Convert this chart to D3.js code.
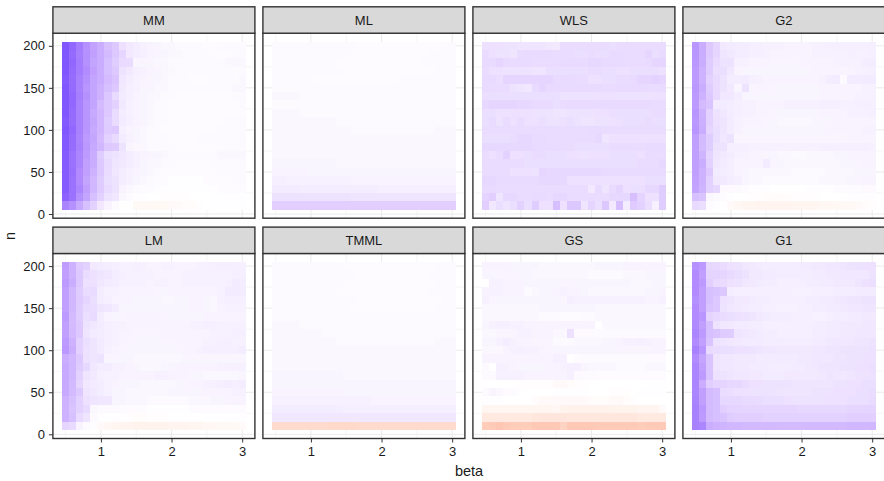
<!DOCTYPE html>
<html>
<head>
<meta charset="utf-8">
<script src="https://cdn.jsdelivr.net/npm/d3@7/dist/d3.min.js"></script>
<style>
  html, body { margin: 0; padding: 0; background: #fff; overflow: hidden; }
  text { font-family: "Liberation Sans", Arial, sans-serif; fill: #1a1a1a; }
  .tick line, .domain { stroke: #333; }
  .grid-major { stroke: #ebebeb; stroke-width: 1; }
  .grid-minor { stroke: #f0f0f0; stroke-width: 0.6; }
</style>
</head>
<body>
<svg class="chart" width="884" height="481"></svg>
<script>
const betaValues = d3.range(5, 31).map(d => d / 10);
const nValues = [200, 190, 180, 170, 160, 150, 140, 130, 120, 110, 100, 90, 80, 70, 60, 50, 40, 30, 20, 10];
const xTicks = [1, 2, 3];
const yTicks = [0, 50, 100, 150, 200];

// cell values, one row per n (200 at the top), one column per beta
const MM = [
  [72,66,58,50,43,38,30,26,15,11,9,7,6,5,4,4,3,3,3,3,2,2,3,3,3,3],
  [72,65,57,50,44,38,32,26,20,11,9,8,6,5,5,4,4,3,3,3,3,2,2,2,3,3],
  [72,66,58,50,42,38,30,24,18,17,5,5,5,4,4,3,3,3,3,3,3,3,3,4,4,4],
  [72,65,58,52,44,38,30,26,14,11,8,7,6,5,4,4,3,3,3,3,3,3,3,3,3,3],
  [71,64,56,50,42,38,32,28,12,9,7,6,5,5,4,3,3,3,2,2,2,3,3,3,3,4],
  [72,65,56,48,42,36,30,26,11,8,7,5,5,4,4,3,3,3,3,3,3,3,3,3,4,4],
  [72,66,57,50,42,36,27,18,10,8,6,5,4,4,3,3,2,2,2,2,2,2,2,2,3,3],
  [72,66,56,48,42,32,26,22,11,7,6,5,4,3,3,2,2,2,2,2,2,2,2,2,2,3],
  [72,65,56,48,40,34,26,17,9,7,6,5,4,3,3,2,2,2,2,2,2,2,2,2,2,2],
  [71,64,56,48,41,34,24,17,10,8,6,5,4,3,3,2,2,2,2,2,2,2,2,3,3,3],
  [72,66,56,48,40,34,25,26,8,6,5,4,3,3,2,2,2,2,2,2,2,2,3,3,3,3],
  [71,64,55,46,41,32,22,18,10,7,5,4,3,3,3,2,2,2,2,3,3,3,3,3,3,3],
  [71,64,56,47,40,34,26,25,14,5,4,4,3,3,3,3,2,2,2,2,2,2,3,3,3,3],
  [70,62,54,46,38,24,16,14,12,9,7,6,5,5,4,3,3,3,3,3,3,3,4,4,4,4],
  [70,62,54,44,38,26,18,13,11,9,7,5,4,4,3,3,2,2,2,2,2,3,3,3,3,3],
  [70,63,52,44,36,26,17,12,9,7,6,5,4,3,2,2,2,2,2,2,2,2,3,3,3,3],
  [70,62,52,42,34,24,16,14,9,7,5,4,3,2,2,1,1,1,1,1,2,2,2,2,3,3],
  [70,62,54,44,34,25,18,14,6,4,3,2,2,1,1,1,1,1,1,1,1,1,2,2,2,2],
  [68,62,50,42,30,22,14,12,4,2,1,1,0,0,-1,-1,-1,-1,0,0,0,1,1,1,1,1],
  [55,50,40,30,22,12,6,2,0,0,-4,-4,-4,-4,-4,-3,-3,-2,-2,-1,0,1,1,1,1,1]
];

const ML = [
  [3,3,3,3,3,3,3,3,3,3,3,3,2,2,2,2,2,2,2,2,2,2,2,2,3,3],
  [3,3,3,3,3,3,3,3,3,3,3,2,2,2,2,2,2,2,2,2,2,2,3,3,3,3],
  [3,3,3,3,3,3,3,3,3,2,2,2,2,2,2,2,2,2,2,2,2,3,3,3,3,3],
  [3,3,3,3,3,3,3,3,3,3,2,2,2,2,2,2,2,2,2,2,2,2,2,3,3,3],
  [3,3,3,3,3,3,2,2,2,2,2,2,2,2,2,2,2,2,3,3,3,3,3,3,3,3],
  [3,3,3,3,3,3,3,3,3,3,3,3,3,3,3,3,3,3,3,3,3,3,3,3,3,3],
  [4,4,4,4,3,3,3,3,3,3,3,3,3,3,3,3,3,3,3,3,3,3,3,3,3,3],
  [3,3,3,3,3,3,3,3,3,3,3,3,3,3,3,3,3,3,3,3,3,3,3,3,3,3],
  [4,4,4,4,3,3,3,3,3,3,3,3,3,3,3,3,3,3,3,3,3,3,3,3,3,3],
  [4,4,4,4,4,4,4,4,4,3,3,3,3,3,3,3,3,3,3,3,3,3,3,3,3,3],
  [4,4,4,4,4,4,4,4,4,4,4,3,3,3,3,3,3,3,3,3,3,3,3,4,4,4],
  [4,4,4,4,4,4,4,4,4,4,4,4,4,4,4,4,4,4,4,4,4,4,4,4,4,4],
  [4,4,4,4,4,4,4,4,4,4,4,4,4,4,4,4,4,4,4,4,4,4,4,4,4,4],
  [4,4,4,4,4,4,4,4,4,4,4,4,4,4,4,4,4,4,4,4,4,4,4,4,4,4],
  [5,5,5,5,5,5,5,5,5,4,4,4,4,4,4,4,4,4,4,4,4,4,4,4,4,4],
  [6,6,6,6,6,5,5,5,5,5,5,5,5,5,5,5,5,5,5,5,5,5,5,5,5,5],
  [8,8,7,7,7,7,7,7,7,7,7,6,6,6,6,6,6,6,6,6,6,6,6,6,6,6],
  [10,10,10,10,9,9,9,9,9,9,9,9,9,9,9,8,8,8,8,8,8,8,8,8,8,8],
  [14,14,14,14,14,14,14,14,14,14,14,13,13,13,13,13,13,13,13,13,13,13,13,13,13,13],
  [23,23,23,23,23,23,23,23,23,23,23,23,23,23,23,23,23,23,23,23,23,23,23,23,23,23]
];

const WLS = [
  [15,15,15,14,14,13,13,13,13,12,11,17,17,17,17,17,17,17,16,17,17,17,17,17,17,17],
  [17,15,14,14,13,17,18,18,18,18,17,17,17,16,16,17,16,16,18,18,17,17,17,20,16,18],
  [18,18,20,18,17,18,18,17,17,17,17,18,18,18,18,19,19,18,18,18,17,17,17,18,20,20],
  [17,15,15,14,14,14,14,13,13,16,16,16,16,16,16,17,17,16,16,15,15,16,16,16,16,15],
  [18,18,16,20,20,20,20,20,20,20,18,18,18,17,17,15,15,16,16,17,17,18,20,20,22,20],
  [18,17,17,17,14,13,12,18,20,18,18,18,18,18,18,18,18,17,17,18,18,18,18,17,17,18],
  [16,16,16,16,16,16,16,16,16,16,16,14,14,14,14,14,15,15,15,14,14,14,14,14,15,15],
  [19,20,20,20,20,19,19,18,18,18,16,17,18,18,18,18,18,18,18,18,18,18,18,18,17,17],
  [16,16,15,15,15,15,15,14,14,14,13,13,14,14,14,14,15,15,16,16,16,16,16,16,17,17],
  [16,18,14,17,15,17,15,15,16,14,14,15,16,14,13,13,14,14,15,15,16,16,16,17,16,16],
  [17,17,17,17,17,17,17,17,17,17,17,17,17,17,17,18,18,17,17,17,17,17,17,17,17,17],
  [16,16,16,16,17,19,19,18,18,17,17,17,17,17,17,17,19,13,15,15,15,15,15,15,15,15],
  [19,19,19,19,19,19,19,18,18,18,18,17,17,16,16,16,16,16,17,17,17,17,17,18,18,18],
  [17,15,17,22,15,15,16,17,17,16,16,16,15,15,14,15,15,15,16,16,16,16,15,17,17,17],
  [17,17,17,17,17,17,16,16,16,16,16,16,16,16,16,16,16,16,16,16,16,16,17,17,17,19],
  [17,17,17,17,15,15,15,14,20,19,19,19,19,19,19,19,19,18,18,18,18,18,18,18,18,18],
  [19,19,18,18,18,18,18,18,19,19,19,19,15,15,15,15,15,15,15,15,15,15,15,16,16,16],
  [18,18,17,17,17,17,17,17,17,17,17,17,17,17,17,11,18,13,18,21,15,16,16,19,19,24],
  [21,23,13,19,19,17,17,18,18,17,19,19,17,17,17,17,17,17,19,19,19,31,21,15,15,24],
  [23,12,16,13,16,22,16,24,15,15,31,15,27,27,13,21,16,27,11,31,9,25,22,16,7,24]
];

const G2 = [
  [48,38,26,20,11,10,9,9,8,8,7,7,7,6,6,6,6,7,7,8,8,8,8,8,8,8],
  [48,38,26,20,13,11,10,9,8,8,7,6,6,6,6,6,6,7,7,7,7,7,8,7,7,8],
  [47,38,24,18,14,14,7,7,6,6,6,5,5,5,5,6,6,6,6,6,7,7,7,7,9,9],
  [46,36,24,16,16,12,6,5,5,5,5,5,5,5,5,5,5,6,6,6,6,6,6,7,7,8],
  [46,36,22,18,14,9,9,10,8,7,6,6,6,6,6,6,6,6,7,9,10,3,10,10,10,10],
  [47,38,24,18,14,11,5,14,5,6,6,5,5,5,5,5,5,5,6,6,6,6,6,6,7,7],
  [46,36,26,18,12,12,9,5,5,5,5,5,5,5,5,5,5,5,6,6,6,6,6,7,7,7],
  [46,32,28,10,10,9,8,7,7,6,6,6,6,7,7,7,7,7,8,8,8,7,7,8,8,8],
  [48,36,22,14,12,9,8,7,7,6,6,5,5,5,5,5,5,5,6,6,6,6,7,7,7,8],
  [47,37,22,15,13,10,7,6,6,6,5,5,4,4,4,4,4,5,5,5,6,6,6,6,6,6],
  [48,38,20,16,13,9,7,5,5,5,5,5,5,5,5,5,5,5,5,6,6,6,6,6,7,7],
  [44,32,24,16,12,14,5,5,5,5,5,5,5,5,5,5,5,5,5,5,5,5,6,6,6,6],
  [44,32,24,14,14,8,8,8,7,7,7,7,7,7,7,7,7,7,8,8,8,8,8,8,8,7],
  [44,35,21,13,11,9,7,7,6,6,5,5,4,4,3,3,4,4,4,4,5,5,6,6,6,6],
  [44,38,22,12,10,8,6,6,6,6,10,5,5,4,4,4,4,4,4,4,4,5,5,5,6,6],
  [44,36,26,10,9,8,6,5,4,4,4,4,4,4,3,3,3,3,3,4,4,4,4,5,5,5],
  [43,36,22,11,11,9,8,5,4,4,3,3,3,3,3,3,3,3,4,4,4,4,5,5,6,6],
  [42,35,22,19,3,3,3,2,1,1,1,0,0,0,0,0,1,1,1,1,2,2,2,2,3,3],
  [30,28,4,3,2,1,0,0,-1,-1,-2,-2,-2,-2,-1,-1,-1,-1,0,0,0,0,1,1,1,1],
  [18,16,2,1,0,-3,-5,-6,-6,-7,-7,-7,-7,-7,-6,-6,-6,-6,-5,-5,-4,-4,-4,-3,-2,-1]
];

const LM = [
  [45,36,25,22,11,10,9,8,7,7,8,7,6,6,7,7,6,6,6,7,7,8,8,8,8,8],
  [44,36,26,17,15,13,12,9,8,7,7,7,7,6,6,6,6,7,7,7,7,7,7,7,8,8],
  [46,38,26,15,15,12,10,9,7,7,7,7,6,7,7,6,6,7,7,7,7,7,7,8,10,9],
  [44,34,24,17,18,9,7,7,6,6,6,6,6,5,5,6,6,6,6,6,6,6,7,10,10,9],
  [44,34,25,20,16,9,8,6,6,6,5,5,5,5,4,4,5,5,6,6,5,4,7,8,8,8],
  [44,34,24,18,17,13,12,9,5,5,5,5,5,5,5,5,5,5,6,6,5,4,6,7,7,7],
  [46,32,24,16,18,9,6,5,5,6,6,6,6,6,5,5,5,5,5,5,6,6,6,6,6,6],
  [44,32,26,14,12,10,8,7,7,6,6,6,6,6,6,6,6,6,7,7,8,8,7,7,7,7],
  [44,33,26,13,10,9,8,7,6,6,5,5,5,5,6,6,6,6,6,6,6,7,7,7,8,8],
  [46,36,22,16,13,10,8,7,6,5,5,5,5,5,5,5,6,6,6,6,7,7,8,8,7,7],
  [47,38,22,15,13,10,7,6,5,5,5,5,5,5,5,5,5,6,6,7,8,8,8,8,8,9],
  [38,34,26,15,13,14,5,5,5,5,4,4,4,4,4,4,4,5,5,5,5,5,5,5,5,5],
  [40,34,24,19,12,9,9,7,7,6,5,4,4,4,5,5,6,6,6,6,6,6,7,7,7,7],
  [40,34,22,13,11,8,7,7,6,6,6,6,6,7,7,6,6,6,5,5,4,4,4,4,4,5],
  [40,33,20,12,10,9,7,6,5,5,5,4,4,4,4,4,5,5,6,6,7,7,8,9,8,9],
  [40,32,26,13,11,9,7,5,5,4,4,4,4,4,4,5,5,5,5,5,6,6,6,6,7,7],
  [36,30,22,15,13,12,12,5,5,4,4,4,3,3,3,3,3,3,4,4,4,5,5,6,6,6],
  [36,28,22,18,4,3,3,3,2,2,2,2,1,1,1,1,1,1,2,2,2,2,2,2,2,2],
  [36,30,18,13,3,1,1,1,0,-1,-2,-2,-1,-1,-1,0,0,0,0,0,1,1,1,1,1,1],
  [20,18,6,2,1,-3,-5,-6,-7,-7,-8,-8,-8,-8,-8,-7,-7,-7,-6,-6,-5,-5,-4,-4,-4,-3]
];

const TMML = [
  [3,3,3,3,3,3,3,3,3,3,2,2,2,2,2,2,2,2,2,2,2,2,2,3,3,3],
  [3,3,3,3,3,3,3,3,3,3,3,3,2,2,2,2,2,2,2,2,2,2,3,3,3,3],
  [3,3,3,3,3,3,3,3,3,3,2,2,2,2,2,2,2,2,2,2,2,2,2,3,3,3],
  [3,3,3,3,3,3,3,3,3,2,2,2,2,2,2,2,2,2,2,2,2,2,3,3,3,3],
  [3,3,3,3,3,3,3,3,3,3,3,3,2,2,2,2,2,2,2,2,2,2,2,2,3,3],
  [3,3,3,3,3,3,3,3,3,3,3,2,2,2,2,2,2,2,2,2,2,2,2,3,3,3],
  [3,3,3,3,3,3,3,3,3,3,3,3,3,3,3,3,3,3,3,3,3,3,3,3,3,3],
  [4,4,4,4,3,3,3,3,3,3,3,3,3,3,3,3,3,3,3,3,3,3,3,3,3,3],
  [4,4,4,4,4,4,4,3,3,3,3,3,3,3,3,3,3,3,3,3,3,3,3,3,3,3],
  [4,4,4,4,4,4,4,4,4,3,3,3,3,3,3,3,3,3,3,3,3,3,3,4,4,4],
  [4,4,4,4,4,4,4,4,4,4,4,4,4,4,4,4,4,4,4,4,4,4,4,4,4,4],
  [4,4,4,4,4,4,4,4,4,4,4,4,4,4,4,4,4,4,4,4,4,4,4,4,4,4],
  [4,4,4,4,4,4,4,4,4,4,4,4,4,4,4,4,4,4,4,4,4,4,4,4,4,4],
  [5,5,5,5,5,5,5,5,5,5,4,4,4,4,4,4,4,4,4,4,4,4,4,4,4,4],
  [5,5,5,5,5,5,5,5,5,5,5,5,5,5,5,5,5,5,5,5,5,5,5,5,5,5],
  [6,6,6,6,6,6,6,6,6,6,5,5,5,5,5,5,5,5,5,5,5,5,5,5,5,5],
  [7,7,7,7,7,7,7,7,7,7,7,7,7,7,6,6,6,6,6,6,6,6,6,6,6,6],
  [9,9,9,9,9,9,9,9,9,9,8,8,8,8,8,8,8,8,8,8,8,8,8,8,8,8],
  [12,12,12,12,12,12,12,12,12,12,12,12,12,12,12,12,12,12,12,12,12,12,12,12,12,12],
  [-22,-22,-22,-22,-22,-22,-22,-22,-23,-23,-23,-23,-22,-22,-22,-22,-22,-22,-22,-22,-22,-22,-22,-22,-22,-22]
];

const GS = [
  [6,6,6,6,5,5,5,5,4,4,4,4,4,4,4,4,5,5,5,5,6,6,6,6,6,6],
  [5,5,5,5,5,5,5,4,4,4,4,4,4,4,4,3,3,3,3,3,4,4,4,5,5,5],
  [0,7,7,6,6,6,5,5,5,5,5,5,5,5,5,5,5,5,5,5,5,4,4,4,5,5],
  [6,7,7,6,6,6,3,4,5,5,6,7,6,6,5,4,4,4,4,4,4,4,4,5,5,6],
  [7,5,5,5,5,5,5,5,5,5,5,5,8,7,7,7,7,7,7,7,7,7,7,6,6,7],
  [4,4,4,4,4,4,4,4,5,5,5,5,5,5,5,5,4,4,4,4,4,4,4,4,4,4],
  [4,4,4,4,4,4,4,4,3,3,3,2,2,2,3,3,4,4,4,4,4,4,4,4,4,4],
  [5,7,8,8,7,7,6,6,6,6,6,6,6,6,6,6,0,4,4,4,4,4,4,4,4,4],
  [4,4,5,5,5,7,7,6,6,6,4,4,15,3,3,3,3,3,3,3,3,3,3,3,3,3],
  [5,5,7,9,7,6,6,5,5,5,3,3,3,4,4,4,4,5,5,6,7,7,8,7,6,6],
  [4,4,4,6,7,8,7,7,6,5,5,5,5,5,5,5,5,5,5,5,5,5,5,5,6,6],
  [6,6,6,6,6,6,6,6,6,6,8,7,0,2,3,3,3,3,3,3,3,3,3,3,3,3],
  [3,0,8,7,6,5,5,5,5,6,6,7,8,8,5,4,4,4,4,3,3,3,3,4,4,4],
  [3,3,7,7,7,7,6,6,6,6,6,6,8,3,3,3,2,2,2,2,2,2,2,2,2,2],
  [0,0,0,0,0,-1,-1,-1,-1,-1,-3,-3,-2,-1,-1,0,0,0,0,0,0,0,0,1,1,1],
  [3,5,4,2,2,1,0,0,0,0,1,1,1,1,1,0,0,0,-1,-1,-1,0,1,1,1,1],
  [1,1,1,0,0,0,0,-2,-3,-3,-3,-3,-3,-3,-3,-2,-2,-2,-3,-3,-2,-1,0,0,0,0],
  [-6,-6,-6,-6,-6,-6,-6,-6,-6,-6,-5,-8,-9,-9,-9,-9,-9,-9,-8,-8,-8,-8,-7,-7,-7,-3],
  [-14,-14,-14,-14,-14,-14,-14,-15,-16,-16,-16,-16,-15,-15,-15,-15,-15,-15,-15,-15,-15,-15,-14,-14,-14,-14],
  [-30,-31,-33,-31,-30,-30,-30,-32,-32,-32,-32,-27,-32,-32,-32,-32,-31,-31,-31,-31,-31,-31,-30,-31,-31,-31]
];

const G1 = [
  [50,46,19,19,17,15,14,12,11,10,9,9,9,9,9,10,10,11,11,12,12,13,14,14,15,15],
  [52,44,21,21,20,18,16,14,11,11,10,10,9,9,9,9,9,10,10,11,11,12,12,12,12,14],
  [52,46,23,18,17,15,14,12,11,10,9,9,8,8,8,8,9,9,10,10,11,11,11,13,15,16],
  [52,44,30,28,27,9,8,8,8,8,8,8,8,8,7,7,7,8,8,8,9,9,9,10,10,10],
  [50,44,30,26,15,13,11,11,10,9,9,8,8,8,8,8,9,9,10,10,11,12,13,13,14,14],
  [52,44,28,26,14,12,11,10,9,9,8,8,7,7,7,8,8,9,9,10,10,11,12,12,13,13],
  [52,48,21,19,17,16,15,14,13,11,10,9,9,9,8,8,8,7,7,8,9,9,10,10,11,11],
  [53,44,30,14,12,11,10,10,9,9,8,8,8,8,8,8,8,9,9,10,10,11,11,11,12,12],
  [54,46,30,28,25,24,13,12,11,10,9,9,8,8,8,8,8,9,9,10,10,11,11,12,12,12],
  [52,44,28,14,13,12,11,10,10,10,9,9,9,9,9,9,9,10,10,11,12,12,12,13,13,14],
  [56,48,18,17,16,16,15,15,14,13,12,12,11,11,11,11,11,12,12,13,13,14,14,14,14,15],
  [52,42,28,13,12,12,11,11,11,10,10,10,10,10,10,11,11,12,12,12,13,13,14,14,15,15],
  [54,44,28,13,12,12,11,11,10,10,10,9,9,9,10,10,11,12,13,13,13,14,14,15,15,16],
  [54,46,28,15,14,13,12,12,11,11,10,10,10,11,11,11,11,11,12,13,12,12,13,14,14,15],
  [54,38,23,21,21,19,19,17,15,15,14,14,14,14,13,13,13,13,13,13,14,14,15,15,16,16],
  [54,44,32,30,17,16,15,15,14,14,14,14,13,13,13,13,13,14,14,14,15,15,15,16,16,17],
  [55,44,32,30,19,19,19,18,18,17,16,16,16,15,14,14,14,14,14,15,15,15,16,16,16,18],
  [56,47,32,30,23,21,21,20,20,20,20,20,20,20,20,19,19,19,19,19,19,19,20,20,21,21],
  [56,46,32,30,28,24,23,23,23,23,22,22,22,22,22,22,22,22,22,22,22,22,23,23,23,23],
  [56,54,38,36,35,34,34,33,33,33,33,33,32,32,32,32,33,33,33,33,33,33,34,34,34,34]
];

const panelNames = ["MM", "ML", "WLS", "G2", "LM", "TMML", "GS", "G1"];
const panelValues = [MM, ML, WLS, G2, LM, TMML, GS, G1];

const panelWidth = 202;
const panelHeight = 185;
const stripHeight = 26.4;
const colStep = 210;
const rowStep = 220.3;
const left = 52.9;
const top0 = 33.2;

const svg = d3.select("svg.chart");

// white to blue and white to red in Lab, so the tints come out violet and salmon
// light values are eased a little, the picture's pale tints sit under a straight ramp
function cellColor(v) {
  const a = Math.abs(v);
  const t = (0.8 * a + 0.2 * a * a / 72) / 100;
  return d3.interpolateLab("#ffffff", v >= 0 ? "#0000ff" : "#ff0000")(t);
}

panelNames.forEach((name, i) => {
  const col = i % 4;
  const row = Math.floor(i / 4);

  const g = svg.append("g")
    .attr("transform", "translate(" + (left + col * colStep) + "," + (top0 + row * rowStep) + ")");

  const x = d3.scaleLinear().domain([0.32, 3.18]).range([0, panelWidth]);
  const y = d3.scaleLinear().domain([-5, 215]).range([panelHeight, 0]);

  // grid
  [0.5, 1.5, 2.5].forEach(d => {
    g.append("line").attr("class", "grid-minor")
      .attr("x1", x(d)).attr("x2", x(d)).attr("y1", 0).attr("y2", panelHeight);
  });
  [25, 75, 125, 175].forEach(d => {
    g.append("line").attr("class", "grid-minor")
      .attr("x1", 0).attr("x2", panelWidth).attr("y1", y(d)).attr("y2", y(d));
  });
  xTicks.forEach(d => {
    g.append("line").attr("class", "grid-major")
      .attr("x1", x(d)).attr("x2", x(d)).attr("y1", 0).attr("y2", panelHeight);
  });
  yTicks.forEach(d => {
    g.append("line").attr("class", "grid-major")
      .attr("x1", 0).attr("x2", panelWidth).attr("y1", y(d)).attr("y2", y(d));
  });

  // tiles
  const cells = [];
  panelValues[i].forEach((vals, r) => {
    vals.forEach((v, c) => cells.push({ beta: betaValues[c], n: nValues[r], v: v }));
  });

  g.selectAll("rect.cell")
    .data(cells)
    .enter().append("rect")
    .attr("class", "cell")
    .attr("x", d => x(d.beta - 0.05))
    .attr("y", d => y(d.n + 5))
    .attr("width", x(0.1) - x(0))
    .attr("height", y(0) - y(10))
    .attr("fill", d => cellColor(d.v))
    .attr("shape-rendering", "crispEdges");

  // panel border
  g.append("rect")
    .attr("width", panelWidth).attr("height", panelHeight)
    .attr("fill", "none").attr("stroke", "#333").attr("stroke-width", 1.4);

  // strip
  g.append("rect")
    .attr("y", -stripHeight)
    .attr("width", panelWidth).attr("height", stripHeight)
    .attr("fill", "#d9d9d9").attr("stroke", "#333").attr("stroke-width", 1.4);

  g.append("text")
    .attr("x", panelWidth / 2)
    .attr("y", -stripHeight / 2 + 4.5)
    .style("text-anchor", "middle")
    .style("font-size", "13px")
    .text(name);

  if (col === 0) {
    const yAxis = g.append("g")
      .call(d3.axisLeft(y).tickValues(yTicks).tickSize(4).tickPadding(4));
    yAxis.select(".domain").remove();
    yAxis.selectAll("text").style("font-size", "13px");
  }

  if (row === 1) {
    const xAxis = g.append("g")
      .attr("transform", "translate(0," + panelHeight + ")")
      .call(d3.axisBottom(x).tickValues(xTicks).tickFormat(d3.format("d")).tickSize(4).tickPadding(4.5));
    xAxis.select(".domain").remove();
    xAxis.selectAll("text").style("font-size", "13px");
  }
});

svg.append("text")
  .attr("transform", "translate(15,236) rotate(-90)")
  .style("text-anchor", "middle")
  .style("font-size", "14.5px")
  .text("n");

svg.append("text")
  .attr("x", 469)
  .attr("y", 475.5)
  .style("text-anchor", "middle")
  .style("font-size", "14.5px")
  .text("beta");
</script>
</body>
</html>
